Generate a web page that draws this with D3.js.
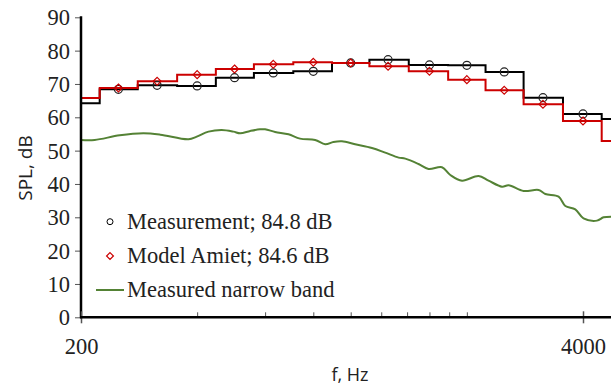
<!DOCTYPE html>
<html>
<head>
<meta charset="utf-8">
<script src="https://cdn.jsdelivr.net/npm/d3@7"></script>
<style>
  body { margin: 0; background: #fff; }
  svg { display: block; }
  .serif { font-family: "Liberation Serif", "Times New Roman", serif; }
  .sans { font-family: "Open Sans", "Liberation Sans", sans-serif; }
</style>
</head>
<body>
<svg id="chart" width="611" height="386"></svg>
<script>
// third-octave band centres (Hz)
const bands = [200, 250, 315, 400, 500, 630, 800, 1000, 1250, 1600, 2000, 2500, 3150, 4000, 5000]
const measured = [64.2, 68.4, 69.6, 69.4, 71.9, 73.3, 73.8, 76.3, 77.3, 75.7, 75.6, 73.6, 65.9, 61.0, 59.5]
const amiet = [65.8, 68.8, 70.8, 72.8, 74.5, 75.9, 76.5, 76.3, 75.3, 73.8, 71.3, 68.1, 63.9, 58.9, 52.9]

// narrow band spectrum (Hz, dB)
const nbFreq = [200, 217, 252, 290, 321, 380, 399, 428, 463, 497, 517, 549, 582, 600, 637, 690, 739, 809, 859, 902, 949, 1027, 1135, 1229, 1331, 1385, 1499, 1591, 1724, 1812, 1943, 2145, 2276, 2467, 2566, 2806, 3069, 3195, 3458, 3600, 3820, 4012, 4348, 4523, 4736]
const nbLevel = [53.2, 53.2, 54.6, 55.2, 54.8, 53.4, 54.2, 55.7, 56.2, 55.7, 55.2, 55.9, 56.4, 56.4, 55.6, 54.9, 53.6, 53.2, 51.9, 52.6, 52.8, 51.9, 50.8, 49.4, 47.9, 47.6, 46.0, 44.5, 45.0, 42.7, 41.0, 42.4, 41.0, 39.2, 39.6, 37.9, 38.2, 37.0, 36.2, 33.4, 32.4, 29.7, 29.0, 30.0, 30.2]

const yTicks = [0, 10, 20, 30, 40, 50, 60, 70, 80, 90]
const xMajor = [200, 4000]
const xMinor = [400, 600, 800, 1000, 1200, 1400, 1600, 1800, 2000]

const legendItems = ['Measurement; 84.8 dB', 'Model Amiet; 84.6 dB', 'Measured narrow band']

const black = '#000000'
const red = '#cc0000'
const green = '#548235'

const svg = d3.select('#chart')
const mLeft = 81, mRight = 611, mTop = 17.3, mBottom = 317.3

const x = d3.scaleLog().domain([200, 4000]).range([mLeft, 583])
const y = d3.scaleLinear().domain([0, 90]).range([mBottom, mTop])

svg.append('clipPath').attr('id', 'plot')
  .append('rect').attr('x', mLeft).attr('y', 0).attr('width', mRight - mLeft).attr('height', mBottom)

const g = svg.append('g').attr('clip-path', 'url(#plot)')

// narrow band
g.append('path')
  .datum(nbFreq.map((f, i) => [f, nbLevel[i]]))
  .attr('fill', 'none')
  .attr('stroke', green)
  .attr('stroke-width', 2)
  .attr('d', d3.line().x(d => x(d[0])).y(d => y(d[1])).curve(d3.curveCatmullRom))

const step = d3.line().x(d => x(d[0])).y(d => y(d[1])).curve(d3.curveStep)

g.append('path')
  .datum(bands.map((f, i) => [f, measured[i]]))
  .attr('fill', 'none').attr('stroke', black).attr('stroke-width', 2)
  .attr('d', step)

g.append('path')
  .datum(bands.map((f, i) => [f, amiet[i]]))
  .attr('fill', 'none').attr('stroke', red).attr('stroke-width', 2)
  .attr('d', step)

// markers only inside the plot
const inside = bands.map((f, i) => i).filter(i => x(bands[i]) > mLeft + 2 && x(bands[i]) < mRight - 2)

g.selectAll('.mk-meas')
  .data(inside)
  .enter().append('circle')
  .attr('class', 'mk-meas')
  .attr('cx', i => x(bands[i]))
  .attr('cy', i => y(measured[i]))
  .attr('r', 4)
  .attr('fill', 'none').attr('stroke', '#222').attr('stroke-width', 1.2)

const diamond = d3.symbol().type(d3.symbolDiamond2).size(40)

g.selectAll('.mk-amiet')
  .data(inside)
  .enter().append('path')
  .attr('class', 'mk-amiet')
  .attr('transform', i => `translate(${x(bands[i])},${y(amiet[i])})`)
  .attr('d', diamond)
  .attr('fill', 'none').attr('stroke', red).attr('stroke-width', 1.2)

// y axis
const yAxis = svg.append('g')
  .attr('transform', `translate(${mLeft},0)`)
  .call(d3.axisLeft(y).tickValues(yTicks).tickSize(6).tickPadding(5))
yAxis.select('.domain').remove()
yAxis.selectAll('.tick line').attr('stroke', '#555').attr('stroke-width', 1)
yAxis.selectAll('.tick text')
  .attr('class', 'serif').attr('font-size', 22.5).attr('fill', '#222')
  .attr('font-family', null).attr('dy', '0.33em')

svg.append('line')
  .attr('x1', mLeft).attr('x2', mLeft).attr('y1', mTop - 1).attr('y2', mBottom + 1)
  .attr('stroke', black).attr('stroke-width', 2.5)

// x axis
const xAxis = svg.append('g')
  .attr('transform', `translate(0,${mBottom})`)
  .call(d3.axisBottom(x).tickValues(xMajor).tickFormat(d3.format('d')).tickSizeInner(6).tickPadding(15))
xAxis.select('.domain').remove()
xAxis.selectAll('.tick line').attr('stroke', '#555').attr('stroke-width', 1.5).attr('y1', -6).attr('y2', 6)
xAxis.selectAll('.tick text')
  .attr('class', 'serif').attr('font-size', 22.5).attr('fill', '#222').attr('font-family', null)

const xMinorAxis = svg.append('g')
  .attr('transform', `translate(0,${mBottom})`)
  .call(d3.axisTop(x).tickValues(xMinor).tickSize(5).tickFormat(''))
xMinorAxis.select('.domain').remove()
xMinorAxis.selectAll('.tick line').attr('stroke', '#555').attr('stroke-width', 1)

svg.append('line')
  .attr('x1', mLeft - 1).attr('x2', mRight).attr('y1', mBottom).attr('y2', mBottom)
  .attr('stroke', black).attr('stroke-width', 2.5)

// axis titles
svg.append('text')
  .attr('class', 'sans')
  .attr('transform', `translate(32,168) rotate(-90)`)
  .attr('text-anchor', 'middle')
  .attr('font-size', 19).attr('fill', '#222')
  .text('SPL, dB')

svg.append('text')
  .attr('class', 'sans')
  .attr('x', 350).attr('y', 381)
  .attr('text-anchor', 'middle')
  .attr('font-size', 18).attr('fill', '#222')
  .text('f, Hz')

// legend
const legendY = [221.7, 256, 290]
const legend = svg.append('g')

legend.append('circle')
  .attr('cx', 110).attr('cy', legendY[0]).attr('r', 3)
  .attr('fill', 'none').attr('stroke', black).attr('stroke-width', 1)
legend.append('path')
  .attr('transform', `translate(110,${legendY[1]})`)
  .attr('d', d3.symbol().type(d3.symbolDiamond2).size(30))
  .attr('fill', 'none').attr('stroke', red).attr('stroke-width', 1.2)
legend.append('line')
  .attr('x1', 96).attr('x2', 124).attr('y1', legendY[2]).attr('y2', legendY[2])
  .attr('stroke', green).attr('stroke-width', 2)

legend.selectAll('.lg-text')
  .data(legendItems)
  .enter().append('text')
  .attr('class', 'lg-text serif')
  .attr('x', 127)
  .attr('y', (d, i) => legendY[i])
  .attr('dy', '0.33em')
  .attr('font-size', 22.5).attr('fill', '#222')
  .text(d => d)
</script>
</body>
</html>
